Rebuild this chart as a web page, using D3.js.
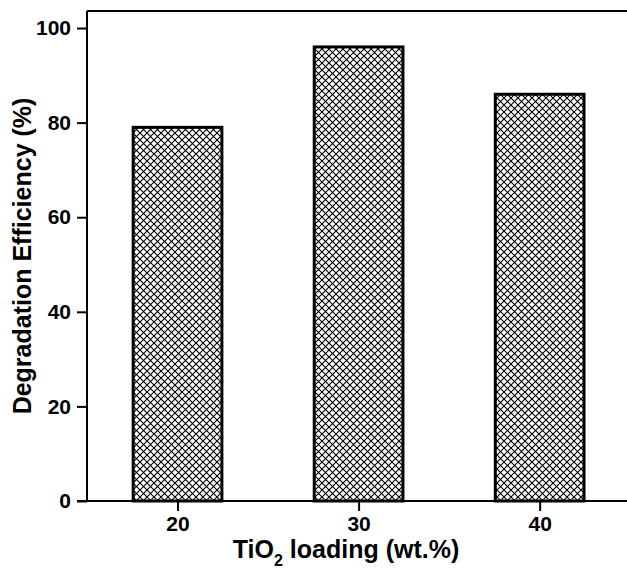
<!DOCTYPE html>
<html>
<head>
<meta charset="utf-8">
<script src="https://cdn.jsdelivr.net/npm/d3@7"></script>
<style>
  body { margin: 0; background: #fff; }
  svg { display: block; }
  text { font-family: "Liberation Sans", Arial, sans-serif; font-weight: bold; fill: #000; }
</style>
</head>
<body>
<div id="chart"></div>
<script>
// data
const loadings = [20, 30, 40]
const efficiency = [79, 96, 86]
const yTicks = [0, 20, 40, 60, 80, 100]

const width = 627,
  height = 571

// plot area edges
const pLeft = 87, pRight = 632, pTop = 11, pBottom = 501

const x = d3.scaleLinear().domain([15, 45.1]).range([pLeft, pRight])
const y = d3.scaleLinear().domain([0, 103.6]).range([pBottom, pTop])

const svg = d3.select('#chart').append('svg')
  .attr('width', width)
  .attr('height', height)

// crosshatch pattern
const pat = svg.append('defs').append('pattern')
  .attr('id', 'hatch')
  .attr('patternUnits', 'userSpaceOnUse')
  .attr('width', 7)
  .attr('height', 7)
pat.append('rect').attr('width', 7).attr('height', 7).attr('fill', '#fff')
pat.append('path')
  .attr('d', 'M-1,-1 L8,8 M-1,8 L8,-1')
  .attr('stroke', '#000')
  .attr('stroke-width', 1.1)

// bars
const halfW = 2.45
svg.selectAll('.bar')
  .data(loadings)
  .enter().append('rect')
  .attr('class', 'bar')
  .attr('x', (d) => x(d - halfW))
  .attr('width', (d) => x(d + halfW) - x(d - halfW))
  .attr('y', (d, i) => y(efficiency[i]))
  .attr('height', (d, i) => y(0) - y(efficiency[i]))
  .attr('fill', 'url(#hatch)')
  .attr('stroke', '#000')
  .attr('stroke-width', 3)

// axes
const yAxis = d3.axisLeft(y).tickValues(yTicks).tickSize(10).tickPadding(6)
const xAxis = d3.axisBottom(x).tickValues(loadings).tickSize(10).tickPadding(5)

const gy = svg.append('g')
  .attr('transform', 'translate(' + pLeft + ',0)')
  .call(yAxis)
const gx = svg.append('g')
  .attr('transform', 'translate(0,' + pBottom + ')')
  .call(xAxis)

gy.select('.domain').remove()
gx.select('.domain').remove()
svg.selectAll('.tick line').attr('stroke', '#000').attr('stroke-width', 2)
svg.selectAll('.tick text').attr('font-size', 21).attr('font-family', null)

// frame lines
svg.append('line').attr('x1', pLeft).attr('x2', pLeft).attr('y1', pTop).attr('y2', pBottom)
  .attr('stroke', '#000').attr('stroke-width', 2)
svg.append('line').attr('x1', pLeft - 10).attr('x2', pRight).attr('y1', pBottom).attr('y2', pBottom)
  .attr('stroke', '#000').attr('stroke-width', 2)
svg.append('line').attr('x1', pLeft).attr('x2', pRight).attr('y1', pTop).attr('y2', pTop)
  .attr('stroke', '#000').attr('stroke-width', 2)

// axis titles
svg.append('text')
  .attr('transform', 'translate(31,' + ((pTop + pBottom) / 2) + ') rotate(-90)')
  .attr('text-anchor', 'middle')
  .attr('font-size', 25)
  .text('Degradation Efficiency (%)')

const xt = svg.append('text')
  .attr('x', 346)
  .attr('y', 558)
  .attr('text-anchor', 'middle')
  .attr('font-size', 25)
xt.append('tspan').text('TiO')
xt.append('tspan').attr('font-size', 16).attr('dy', 8).text('2')
xt.append('tspan').attr('dy', -8).text(' loading (wt.%)')
</script>
</body>
</html>
